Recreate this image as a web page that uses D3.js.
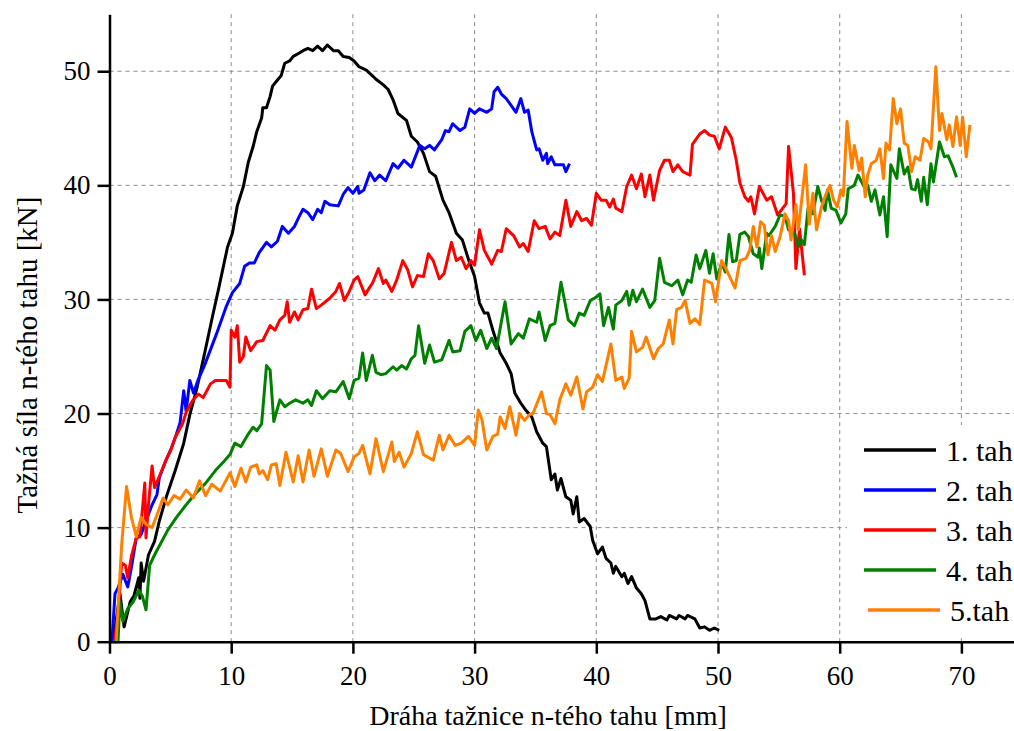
<!DOCTYPE html>
<html>
<head>
<meta charset="utf-8">
<script src="https://cdn.jsdelivr.net/npm/d3@7"></script>
<style>
  body { margin: 0; background: #fff; }
</style>
</head>
<body>
<svg id="chart" width="1014" height="731"></svg>
<script>
// x: dráha [mm], y: síla [kN]
const tah1 = [[0.3,0],[0.86,4.2],[1.2,1.3],[1.7,3.5],[2.0,4.0],[2.4,5.6],[2.5,3.8],[2.6,6.9],[2.8,5.3],[3.2,7.6],[3.7,8.8],[4.1,10.6],[4.7,12.8],[5.4,15.0],[6.1,17.4],[6.6,19.9],[7.2,22.3],[7.8,25.2],[8.4,28.2],[9.0,31.1],[9.7,34.6],[10.1,35.8],[10.5,38.2],[11.0,39.9],[11.4,42.0],[11.8,43.4],[12.1,44.7],[12.5,45.9],[12.6,46.8],[12.9,46.8],[13.2,47.8],[13.4,48.7],[13.7,49.1],[14.1,49.6],[14.4,50.7],[14.8,50.9],[15.1,51.3],[15.6,51.6],[15.9,51.8],[16.3,52.0],[16.7,51.8],[17.1,52.2],[17.5,51.8],[17.9,52.3],[18.4,51.8],[18.8,51.8],[19.2,51.3],[19.7,51.2],[20.1,50.9],[20.5,50.4],[21.1,50.1],[21.5,49.7],[21.9,49.3],[22.5,48.8],[22.9,48.4],[23.3,47.5],[23.7,46.3],[24.4,45.7],[24.8,44.3],[25.3,43.8],[25.8,42.8],[26.3,41.2],[26.8,40.8],[27.4,38.7],[27.9,37.6],[28.5,35.8],[29.0,35.2],[29.5,33.5],[30.0,32.0],[30.4,29.7],[30.8,28.8],[31.1,28.8],[31.5,27.3],[32.1,25.3],[32.6,24.4],[33.0,23.5],[33.3,21.8],[33.8,20.9],[34.2,20.3],[34.7,19.7],[35.1,18.4],[35.6,17.4],[35.9,17.1],[36.3,14.2],[36.6,14.7],[36.8,13.3],[37.1,14.3],[37.5,12.7],[37.9,12.4],[38.1,11.2],[38.4,12.7],[38.6,10.5],[39.0,10.8],[39.5,10.1],[39.7,8.9],[40.1,7.7],[40.5,8.3],[40.8,7.3],[41.2,6.9],[41.4,6.0],[41.6,6.6],[42.1,5.7],[42.3,6.0],[42.6,5.1],[42.9,5.7],[43.3,4.7],[43.7,4.2],[44.0,3.6],[44.4,2.0],[44.9,2.0],[45.3,2.2],[45.8,1.9],[46.0,2.3],[46.6,2.0],[46.8,2.3],[47.3,2.0],[47.5,2.3],[48.1,2.0],[48.5,1.2],[48.9,1.3],[49.3,1.0],[49.7,1.2],[50.1,1.0]];

const tah2 = [[0.2,0],[0.45,4.2],[0.7,4.7],[1.1,5.9],[1.5,4.8],[1.8,6.5],[2.2,9.1],[2.6,9.4],[3.0,10.6],[3.5,12.0],[3.9,12.9],[4.1,14.4],[4.6,15.8],[5.1,17.0],[5.5,18.2],[5.8,19.2],[6.1,22.0],[6.3,20.2],[6.6,22.9],[6.9,21.8],[7.3,23.0],[7.8,24.2],[8.3,25.6],[8.8,27.0],[9.2,28.2],[9.6,29.4],[10.1,30.6],[10.7,31.4],[11.1,32.9],[11.5,33.2],[11.9,33.2],[12.3,34.1],[12.9,35.0],[13.3,34.6],[13.8,35.1],[14.2,36.4],[14.7,35.8],[15.2,36.4],[15.6,37.3],[15.9,37.9],[16.3,37.6],[16.7,37.0],[17.1,37.9],[17.4,37.6],[17.7,38.6],[18.1,38.3],[18.8,38.2],[19.2,39.2],[19.6,39.8],[20.0,39.3],[20.4,39.9],[20.5,39.3],[20.9,39.6],[21.4,41.1],[21.8,40.4],[22.2,40.9],[22.7,40.4],[23.3,41.9],[23.7,41.5],[24.2,42.2],[24.8,41.6],[25.5,43.5],[25.9,43.2],[26.3,43.5],[26.7,43.1],[27.3,44.0],[27.6,44.8],[27.9,44.7],[28.2,45.4],[28.8,44.8],[29.2,45.1],[29.6,46.7],[30.0,46.3],[30.4,46.7],[31.0,46.4],[31.4,46.7],[31.6,48.2],[31.9,48.6],[32.2,48.0],[32.6,47.6],[33.0,47.0],[33.4,46.4],[33.8,47.6],[34.1,46.4],[34.4,46.6],[34.7,44.7],[35.1,43.1],[35.3,43.2],[35.6,42.2],[35.9,42.8],[36.0,41.9],[36.3,42.5],[36.6,41.8],[37.3,41.8],[37.5,41.2],[37.8,41.9]];

const tah3 = [[0.4,0],[0.7,2.3],[1.0,6.9],[1.3,6.7],[1.5,5.6],[1.8,7.5],[2.2,9.1],[2.5,9.2],[2.9,13.9],[3.0,9.1],[3.2,12.0],[3.5,15.4],[3.7,13.5],[4.1,14.5],[4.6,15.8],[5.0,16.7],[5.4,17.9],[6.0,19.1],[6.3,20.1],[6.8,21.1],[7.3,21.7],[7.7,21.4],[8.3,22.6],[8.7,22.9],[9.2,22.9],[9.6,22.9],[9.9,22.3],[10.0,27.3],[10.3,26.7],[10.5,27.7],[10.7,24.5],[11.0,25.0],[11.2,26.7],[11.6,25.5],[12.1,26.3],[12.6,26.4],[13.2,27.7],[13.6,27.3],[14.0,28.2],[14.4,28.6],[14.6,29.8],[14.8,28.0],[15.2,28.9],[15.5,28.2],[15.9,29.1],[16.3,29.2],[16.6,30.9],[17.0,29.2],[17.4,29.5],[18.1,30.1],[18.6,30.7],[18.9,31.4],[19.3,29.9],[19.7,30.7],[20.1,31.7],[20.4,32.0],[21.0,30.4],[21.4,31.1],[21.6,31.4],[22.1,32.7],[22.5,31.4],[22.7,31.7],[23.2,30.7],[23.6,31.7],[24.1,33.4],[24.5,32.6],[24.9,31.1],[25.3,32.1],[25.8,32.0],[26.2,34.0],[26.6,33.4],[27.1,31.8],[27.5,32.3],[28.1,35.0],[28.5,33.4],[28.9,33.7],[29.3,32.7],[29.7,33.4],[30.0,33.0],[30.4,36.1],[30.8,34.3],[31.4,33.1],[31.9,34.3],[32.2,34.2],[32.6,36.2],[33.2,35.6],[33.7,34.6],[34.0,34.9],[34.4,34.2],[34.9,36.9],[35.3,36.2],[35.8,36.4],[36.2,35.3],[36.6,35.9],[37.0,35.6],[37.5,38.7],[37.9,36.4],[38.4,37.7],[38.8,36.9],[39.2,37.1],[39.6,36.5],[40.0,39.3],[40.4,38.7],[40.8,38.7],[41.1,38.1],[41.4,38.8],[41.6,38.0],[42.1,37.7],[42.5,39.9],[42.9,40.9],[43.3,39.7],[43.7,41.0],[44.0,39.0],[44.4,40.9],[44.7,38.7],[45.2,41.3],[45.6,42.2],[46.0,42.2],[46.3,41.2],[46.7,41.8],[47.1,41.2],[47.7,40.9],[47.9,43.6],[48.5,44.5],[48.9,44.8],[49.3,44.4],[49.7,44.3],[50.1,43.2],[50.6,45.1],[51.1,44.2],[51.5,42.2],[51.8,40.2],[52.2,39.0],[52.5,38.6],[52.7,39.0],[53.0,37.5],[53.4,39.9],[54.0,38.7],[54.4,39.0],[54.9,37.4],[55.6,38.4],[55.8,43.4],[56.2,39.3],[56.4,32.7],[56.7,36.2],[57.1,32.1]];

const tah4 = [[0.3,0],[0.7,0],[0.85,3.5],[1.1,1.8],[1.5,2.9],[1.95,3.5],[2.4,4.5],[2.7,4.0],[3.0,2.8],[3.3,6.7],[3.7,7.6],[4.3,8.8],[4.8,9.8],[5.5,10.9],[6.3,12.0],[7.0,12.9],[7.9,13.9],[8.7,15.0],[9.4,15.8],[9.9,16.4],[10.3,17.4],[10.8,17.1],[11.4,18.2],[11.8,18.8],[12.1,18.5],[12.5,19.1],[12.9,24.2],[13.2,23.8],[13.5,19.3],[14.0,21.2],[14.4,20.6],[14.8,20.9],[15.3,21.2],[15.9,20.9],[16.3,21.2],[16.6,20.7],[17.0,22.0],[17.5,21.3],[18.1,22.0],[18.6,21.9],[19.2,22.8],[19.7,21.3],[20.1,22.9],[20.5,23.1],[20.8,25.3],[21.1,22.9],[21.6,25.1],[21.9,23.6],[22.3,23.4],[22.7,23.5],[23.3,24.1],[23.6,23.8],[24.0,24.2],[24.4,23.9],[24.8,24.8],[25.1,25.1],[25.4,27.7],[25.9,24.4],[26.3,26.0],[26.7,24.5],[27.3,24.7],[27.9,26.4],[28.2,25.4],[28.8,25.5],[29.2,27.2],[29.7,27.7],[30.1,26.4],[30.5,27.3],[31.0,25.7],[31.4,26.6],[31.8,25.7],[32.5,29.8],[33.0,26.1],[33.6,27.0],[34.0,26.6],[34.5,28.3],[35.1,28.0],[35.3,28.9],[35.8,26.4],[36.2,27.7],[36.6,27.9],[37.1,31.5],[37.7,28.2],[38.2,27.7],[38.6,28.8],[39.0,28.6],[39.5,29.9],[40.0,30.2],[40.3,30.5],[40.6,27.7],[41.0,29.3],[41.4,27.4],[41.6,29.5],[42.1,29.9],[42.5,30.7],[42.7,29.5],[43.0,30.8],[43.3,29.8],[43.8,30.9],[44.4,29.3],[44.8,29.9],[45.2,33.6],[45.6,31.5],[46.2,31.2],[46.7,31.7],[47.1,30.4],[47.5,31.7],[47.8,31.5],[48.2,33.9],[48.5,32.7],[49.0,34.3],[49.3,32.3],[49.6,34.0],[49.9,31.8],[50.3,33.2],[50.6,32.4],[50.9,35.7],[51.2,33.3],[51.5,33.4],[51.8,35.7],[52.2,35.9],[52.5,35.5],[52.9,34.0],[53.3,33.7],[53.4,34.5],[53.6,32.7],[54.0,35.8],[54.2,35.6],[54.7,36.4],[55.1,37.4],[55.5,37.3],[55.8,36.1],[56.3,35.8],[56.6,34.6],[56.8,35.3],[57.1,34.8],[57.4,38.0],[57.8,37.5],[58.2,39.9],[58.5,38.7],[58.8,37.8],[59.0,39.6],[59.3,38.0],[59.7,37.8],[60.1,36.7],[60.5,37.5],[60.7,39.7],[61.2,40.0],[61.5,40.9],[62.1,39.7],[62.3,40.0],[62.6,38.6],[62.9,39.6],[63.3,37.4],[63.6,39.0],[63.9,35.5],[64.2,41.8],[64.7,40.6],[64.9,43.2],[65.3,41.0],[65.6,41.6],[65.9,39.7],[66.2,39.6],[66.4,40.5],[66.7,38.6],[66.9,40.7],[67.2,38.3],[67.5,41.9],[67.7,40.3],[68.2,43.8],[68.6,42.5],[68.9,42.6],[69.3,41.6],[69.6,40.7]];

const tah5 = [[0.55,0],[1.0,8.5],[1.4,13.6],[1.8,10.9],[2.2,9.2],[2.6,10.9],[3.0,10.3],[3.5,10.0],[3.9,11.1],[4.4,12.6],[4.8,12.0],[5.3,12.8],[5.8,12.5],[6.3,13.3],[6.9,12.6],[7.4,14.1],[7.9,12.8],[8.4,13.8],[9.1,13.2],[9.9,14.8],[10.3,13.6],[10.8,15.2],[11.2,14.0],[11.6,15.3],[12.1,15.5],[12.3,14.7],[12.6,15.0],[13.0,14.2],[13.3,15.5],[13.7,15.6],[14.0,13.7],[14.5,16.6],[15.1,14.0],[15.5,16.3],[15.9,14.0],[16.4,16.8],[16.8,14.5],[17.4,16.9],[17.9,14.5],[18.6,16.8],[19.0,16.5],[19.6,14.9],[20.1,16.2],[20.5,16.5],[20.8,17.2],[21.4,14.7],[21.9,17.8],[22.5,14.9],[23.2,17.5],[23.4,15.8],[23.8,16.6],[24.2,15.3],[24.8,16.5],[25.3,18.4],[25.8,16.4],[26.6,15.9],[27.1,18.1],[27.4,16.8],[27.9,18.1],[28.4,17.2],[28.9,17.4],[29.5,18.0],[30.0,17.2],[30.3,20.3],[30.6,19.5],[31.0,16.8],[31.5,18.0],[31.9,18.2],[32.1,19.7],[32.5,18.7],[32.9,20.6],[33.4,18.1],[33.7,20.0],[34.1,19.4],[34.5,19.9],[34.8,20.0],[35.5,21.9],[35.9,20.0],[36.2,19.9],[36.6,19.1],[37.0,21.2],[37.5,22.6],[37.9,21.6],[38.4,23.2],[38.9,20.4],[39.2,21.9],[39.7,22.3],[40.1,23.4],[40.5,22.8],[41.2,26.1],[41.6,22.9],[42.1,23.2],[42.3,22.2],[42.7,23.1],[42.9,27.2],[43.3,25.4],[43.8,25.8],[44.1,26.7],[44.7,24.8],[45.1,25.7],[45.5,26.1],[46.0,28.2],[46.3,26.1],[46.6,29.1],[47.0,29.3],[47.3,29.9],[47.7,27.9],[48.1,28.3],[48.5,27.8],[48.9,31.7],[49.5,31.4],[49.8,29.8],[50.3,33.4],[50.7,32.6],[51.4,31.0],[51.8,33.4],[52.3,33.6],[52.6,34.3],[52.9,36.4],[53.2,34.6],[53.5,36.8],[53.8,36.5],[54.1,33.9],[54.4,35.6],[54.7,34.2],[55.1,35.5],[55.5,37.5],[55.8,36.9],[56.0,35.2],[56.4,38.3],[56.6,36.1],[56.8,38.0],[57.2,41.8],[57.5,36.6],[57.8,39.3],[58.1,36.1],[58.5,38.1],[58.9,39.3],[59.2,40.0],[59.5,38.7],[59.8,38.1],[60.1,39.6],[60.3,39.1],[60.6,45.6],[61.0,41.5],[61.2,43.5],[61.6,41.3],[61.8,42.4],[62.1,39.0],[62.3,40.9],[62.6,41.9],[63.0,42.2],[63.3,43.2],[63.6,40.6],[63.8,43.7],[64.1,43.1],[64.4,47.6],[64.7,45.4],[65.0,46.7],[65.3,43.7],[65.6,43.5],[65.9,41.2],[66.2,42.5],[66.6,42.2],[66.9,44.1],[67.3,43.8],[67.5,43.2],[67.9,50.4],[68.2,44.8],[68.4,46.3],[68.8,44.0],[69.0,45.3],[69.3,43.4],[69.6,46.0],[69.9,43.5],[70.1,46.0],[70.4,42.5],[70.7,45.3]];

const seriesNames = ['1. tah', '2. tah', '3. tah', '4. tah', '5.tah'];
const seriesColors = ['#000000', '#0000ff', '#ff0000', '#008000', '#ff8000'];
const xTicks = [0, 10, 20, 30, 40, 50, 60, 70];
const yTicks = [0, 10, 20, 30, 40, 50];

const serif = '"Liberation Serif", "DejaVu Serif", serif';
const svg = d3.select('#chart');
const plotLeft = 109.5, plotBottom = 641.7, plotTop = 14.2;

const x = d3.scaleLinear().domain([0, 75]).range([plotLeft, plotLeft + 75 * 12.17]);
const y = d3.scaleLinear().domain([0, 55]).range([plotBottom, plotTop]);

// grid
const grid = svg.append('g')
  .attr('stroke', '#8c8c8c')
  .attr('stroke-width', 1)
  .attr('stroke-dasharray', '4,4');

grid.selectAll('.gx')
  .data(xTicks.filter(d => d > 0))
  .enter().append('line')
  .attr('x1', d => x(d)).attr('x2', d => x(d))
  .attr('y1', y(55)).attr('y2', y(0));

grid.selectAll('.gy')
  .data(yTicks.filter(d => d > 0))
  .enter().append('line')
  .attr('x1', x(0)).attr('x2', 1014)
  .attr('y1', d => y(d)).attr('y2', d => y(d));

// lines
const line = d3.line()
  .x(d => x(d[0]))
  .y(d => y(d[1]));

const allSeries = [tah1, tah2, tah3, tah4, tah5];
svg.append('g').selectAll('path')
  .data(allSeries)
  .enter().append('path')
  .attr('d', d => line(d))
  .attr('fill', 'none')
  .attr('stroke', (d, i) => seriesColors[i])
  .attr('stroke-width', 3)
  .attr('stroke-linejoin', 'round');

// axes
const xAxis = svg.append('g')
  .attr('transform', 'translate(0,' + plotBottom + ')')
  .call(d3.axisBottom(x).tickValues(xTicks).tickSize(12).tickSizeOuter(0).tickPadding(12).tickFormat(d3.format('d')));

const yAxis = svg.append('g')
  .attr('transform', 'translate(' + plotLeft + ',0)')
  .call(d3.axisLeft(y).tickValues(yTicks).tickSize(12).tickSizeOuter(0).tickPadding(7).tickFormat(d3.format('d')));

[xAxis, yAxis].forEach(a => {
  a.select('.domain').attr('stroke', '#000').attr('stroke-width', 2.5);
  a.selectAll('.tick line').attr('stroke', '#000').attr('stroke-width', 2.5);
  a.selectAll('.tick text')
    .attr('fill', '#000')
    .attr('font-family', serif)
    .attr('font-size', 27);
});

// titles
svg.append('text')
  .attr('x', 548).attr('y', 725)
  .attr('text-anchor', 'middle')
  .attr('font-family', serif)
  .attr('font-size', 28)
  .text('Dráha tažnice n-tého tahu [mm]');

svg.append('text')
  .attr('transform', 'translate(37,355) rotate(-90)')
  .attr('text-anchor', 'middle')
  .attr('font-family', serif)
  .attr('font-size', 29)
  .text('Tažná síla n-tého tahu [kN]');

// legend
const legend = svg.append('g');
legend.append('rect')
  .attr('x', 847).attr('y', 425)
  .attr('width', 167).attr('height', 211)
  .attr('fill', '#fff');

const rows = legend.selectAll('.row')
  .data(seriesNames)
  .enter().append('g')
  .attr('transform', (d, i) => 'translate(' + (i === 4 ? 4 : 0) + ',' + (450 + i * 40) + ')');

rows.append('line')
  .attr('x1', 864).attr('x2', 936)
  .attr('stroke', (d, i) => seriesColors[i])
  .attr('stroke-width', 3.5);

rows.append('text')
  .attr('x', 946)
  .attr('y', 11)
  .attr('font-family', serif)
  .attr('font-size', 30)
  .text(d => d);
</script>
</body>
</html>
